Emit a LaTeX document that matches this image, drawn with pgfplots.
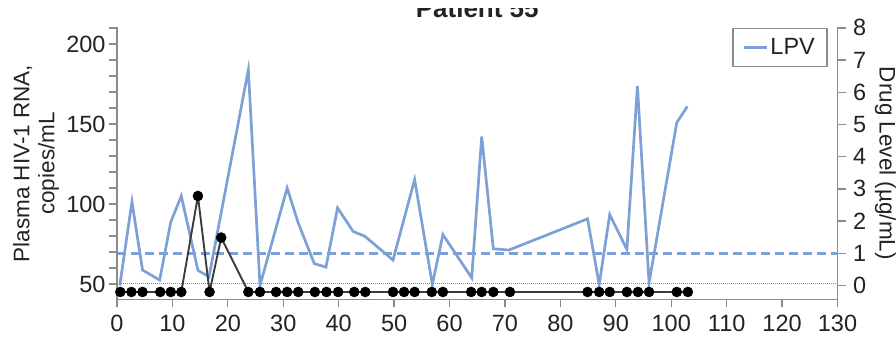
\documentclass[border=0pt]{standalone}
\usepackage{fontspec}
\setmainfont{Liberation Sans}
\usepackage{pgfplots}
\pgfplotsset{compat=1.18}
\definecolor{lpv}{RGB}{125,160,215}
\definecolor{axgray}{RGB}{140,140,140}
\definecolor{txt}{RGB}{35,35,35}
\definecolor{vl}{RGB}{60,60,60}
\begin{document}
\begin{tikzpicture}[font=\fontsize{23.5}{27}\selectfont, text=txt]
\pgfplotsset{
  common/.style={
    scale only axis, width=720.5pt, height=272pt,
    xmin=0, xmax=130,
    /pgf/number format/assume math mode=true,
    axis line style={axgray, line width=1.3pt},
    every tick/.style={axgray, line width=1.3pt},
    tick align=outside,
    major tick length=8pt, minor tick length=8pt,
    tick label style={text=txt},
    clip=false,
  }
}
\begin{axis}[common, name=ax2,
  axis x line=none, axis y line*=right,
  ymin=-0.435, ymax=8.012, ytick={0,1,...,8},
  yticklabel style={xshift=4pt},
  legend style={at={(1,1)}, anchor=north east, xshift=-10pt, yshift=-0.5pt,
    draw=axgray, line width=1.3pt, text=txt, inner xsep=10pt, inner ysep=8pt},
  legend cell align=left,
  legend image code/.code={\draw[#1, line width=2.5pt] (0pt,0pt) -- (23pt,0pt);},
]
\addplot[lpv, line width=2.7pt] coordinates {
(0.5,0.0) (2.7,2.6) (4.6,0.48) (7.7,0.17) (9.7,1.97) (11.6,2.78) (14.6,0.47)
(16.6,0.27) (23.7,6.7) (25.8,0.0) (30.7,3.03) (32.7,1.94) (35.6,0.68) (37.7,0.57)
(39.8,2.41) (42.6,1.68) (44.7,1.53) (49.8,0.79) (53.7,3.29) (56.9,0.03) (58.8,1.58)
(64.0,0.24) (65.8,4.63) (67.9,1.14) (70.7,1.1) (84.9,2.07) (87.0,0.03) (88.9,2.2)
(92.0,1.12) (93.9,6.2) (96.0,0.08) (101.0,5.06) (102.9,5.56)
};
\addlegendentry{LPV}
\addplot[lpv, line width=2.7pt, dash pattern=on 9pt off 5pt, forget plot] coordinates {(0,1) (130,1)};
\end{axis}
\begin{axis}[common, name=ax,
  axis x line*=bottom, axis y line*=left,
  ymin=40.3, ymax=210.3, ytick={50,100,150,200},
  minor ytick={60,70,80,90,110,120,130,140,160,170,180,190,210},
  xtick={0,10,...,130},
  xticklabel style={yshift=-4pt},
]
\addplot[axgray, densely dotted, line width=1pt] coordinates {(0,50) (130,50)};
\addplot[vl, line width=1.9pt, mark=*, mark size=5pt, mark options={fill=black, draw=black, line width=0.5pt}] coordinates {
(0.6,45) (2.6,45) (4.6,45) (7.8,45) (9.7,45) (11.6,45) (14.6,105) (16.7,45) (18.8,79)
(23.7,45) (25.8,45) (28.7,45) (30.7,45) (32.7,45) (35.7,45) (37.8,45) (39.9,45)
(42.8,45) (44.8,45) (49.8,45) (51.8,45) (53.7,45) (56.8,45) (58.8,45) (63.9,45)
(65.8,45) (67.9,45) (70.9,45) (84.9,45) (87.0,45) (88.9,45) (92.0,45) (94.0,45)
(96.0,45) (101.0,45) (103.0,45)
};
\end{axis}
\node[rotate=90, align=center, font=\fontsize{22.5}{25}\selectfont] at ([xshift=-81pt]ax.west) {Plasma HIV-1 RNA,\\copies/mL};
\node[rotate=-90, font=\fontsize{22.5}{25}\selectfont] at ([xshift=48pt]ax.east) {Drug Level (µg/mL)};
\node[anchor=base, font=\fontsize{26}{30}\selectfont\bfseries] at ([yshift=9.5pt]ax.north) {Patient 55};
\fill[white] ([xshift=-200pt,yshift=19pt]ax.north) rectangle ([xshift=200pt,yshift=40pt]ax.north);
\pgfresetboundingbox
\path[use as bounding box] ([xshift=-117pt,yshift=-41.5pt]ax.south west) rectangle ([xshift=58.5pt,yshift=27.5pt]ax.north east);
\end{tikzpicture}
\end{document}
